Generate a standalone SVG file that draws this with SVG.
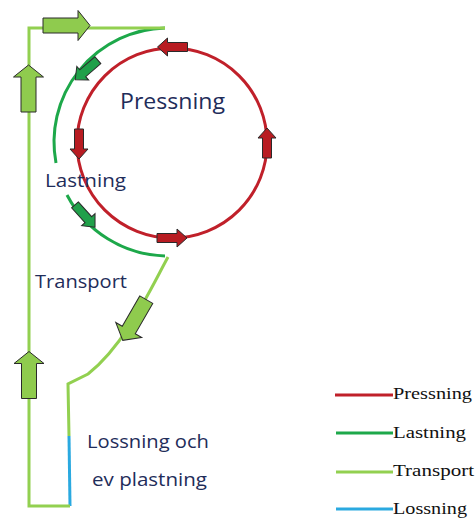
<svg xmlns="http://www.w3.org/2000/svg" width="476" height="519" viewBox="0 0 476 519">
<defs>
<style>
.ln{fill:none;stroke-width:3;stroke-linecap:butt;stroke-linejoin:miter}
.red{stroke:#C0202A}
.dg{stroke:#1DA84A}
.lg{stroke:#92D050}
.bl{stroke:#2AA9E0}
.ar{stroke:#2a2a2a;stroke-width:1}
.far{fill:#B81C22}
.fdg{fill:#20A04A}
.flg{fill:#8FCB4E}
.lbl{font-family:"Open Sans","Noto Sans",sans-serif;fill:#1F2D5A}
.leg{font-family:"Liberation Serif",serif;font-size:17px;fill:#111}
</style>
<path id="sa" d="M-15,-4.5 H5 V-9 L15,0 L5,9 V4.5 H-15 Z"/>
<path id="ba" d="M-23.5,-7.5 H11.5 V-15 L23.5,0 L11.5,15 V7.5 H-23.5 Z"/>
</defs>
<g id="connectors">
<circle class="ln red" cx="172" cy="143" r="95"/>
<path class="ln dg" d="M165,28 A114,114 0 0 0 56,163"/>
<path class="ln dg" d="M67,195 A114,114 0 0 0 165,256"/>
<path class="ln lg" d="M168,257 C150,290 125,345 88,374 L68,384 L69,436"/>
<path class="ln bl" d="M69,436 L70,506"/>
<path class="ln lg" d="M70,506 L29,506 L29,28 L165,28"/>
</g>
<g id="arrows">
<use href="#sa" class="ar far" transform="translate(172.5,47) rotate(180)"/>
<use href="#sa" class="ar far" transform="translate(267,143) rotate(-90)"/>
<use href="#sa" class="ar far" transform="translate(172,238)"/>
<use href="#sa" class="ar far" transform="translate(79,144) rotate(90)"/>
<use href="#sa" class="ar fdg" transform="translate(86.5,70) rotate(139)"/>
<use href="#sa" class="ar fdg" transform="translate(85,216) rotate(48)"/>
<use href="#ba" class="ar flg" transform="translate(66.5,25.5)"/>
<use href="#ba" class="ar flg" transform="translate(28.5,88.5) rotate(-90)"/>
<use href="#ba" class="ar flg" transform="translate(29,375) rotate(-90)"/>
<use href="#ba" class="ar flg" transform="translate(134.5,320) rotate(120)"/>
</g>
<g id="node-pressning"><text class="lbl" x="120" y="109" font-size="21" textLength="105" lengthAdjust="spacingAndGlyphs">Pressning</text></g>
<g id="node-lastning"><text class="lbl" x="45" y="187" font-size="18" textLength="81" lengthAdjust="spacingAndGlyphs">Lastning</text></g>
<g id="node-transport"><text class="lbl" x="35" y="288" font-size="18" textLength="92" lengthAdjust="spacingAndGlyphs">Transport</text></g>
<g id="node-lossning">
<text class="lbl" x="87" y="448" font-size="18" textLength="122" lengthAdjust="spacingAndGlyphs">Lossning och</text>
<text class="lbl" x="92" y="486" font-size="18" textLength="115" lengthAdjust="spacingAndGlyphs">ev plastning</text>
</g>
<g id="legend">
<line class="ln red" x1="335" y1="395" x2="393" y2="395" stroke-width="4"/>
<line class="ln dg" x1="336" y1="433" x2="393" y2="433" stroke-width="4"/>
<line class="ln lg" x1="336" y1="472" x2="393" y2="472" stroke-width="4"/>
<line class="ln bl" x1="336" y1="509" x2="393" y2="509" stroke-width="4"/>
<text class="leg" x="393" y="399" textLength="79" lengthAdjust="spacingAndGlyphs">Pressning</text>
<text class="leg" x="393" y="438" textLength="73" lengthAdjust="spacingAndGlyphs">Lastning</text>
<text class="leg" x="393" y="476" textLength="81" lengthAdjust="spacingAndGlyphs">Transport</text>
<text class="leg" x="393" y="514" textLength="74" lengthAdjust="spacingAndGlyphs">Lossning</text>
</g>
</svg>
